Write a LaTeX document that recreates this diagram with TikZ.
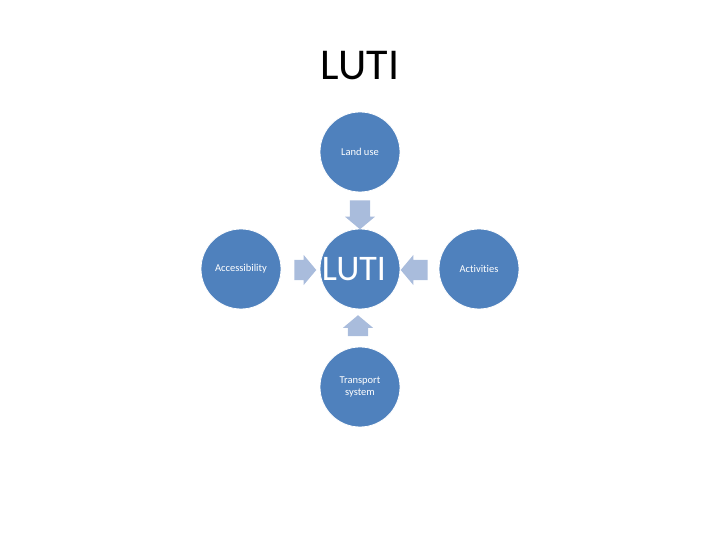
\documentclass[tikz,border=0pt]{standalone}
\usepackage{fontspec}
\setmainfont[Ligatures=NoCommon]{Carlito}
\usetikzlibrary{shapes.arrows, positioning}
\definecolor{circBlue}{HTML}{4F81BD}
\definecolor{arrBlue}{HTML}{A9BCDC}
\tikzset{
    bubble/.style={circle, draw=white, line width=0.8pt, fill=circBlue, text=white, minimum size=80pt, inner sep=0pt, align=center, font=\fontsize{10.5}{12}\selectfont},
    hub/.style={bubble, font=\fontsize{36}{40}\selectfont},
    blockArrow/.style={single arrow, draw=none, fill=arrBlue, inner xsep=0pt, inner ysep=10pt, single arrow head extend=5pt, single arrow tip angle=100, minimum width=30pt},
}
\begin{document}
\begin{tikzpicture}[x=1pt, y=1pt]
        \useasboundingbox (0,0) rectangle (720,540);
        
        \node[font=\fontsize{44}{48}\selectfont] (title) at (360,474) {LUTI};
        
        \node[hub] (luti) at (360,271) {LUTI\hspace*{12pt}};
        \node[bubble] (landuse) at (360,388) {Land use};
        \node[bubble] (transport) at (360,153) {Transport\\system};
        \node[bubble] (access) at (241,271) {Accessibility};
        \node[bubble] (activities) at (479,271) {Activities};
        
        \node[blockArrow, minimum height=29pt, rotate=-90] (arrTop) at (360,329.5) {};
        \node[blockArrow, minimum height=21pt, rotate=90] (arrBottom) at (358,210) {};
        \node[blockArrow, minimum height=22pt] (arrLeft) at (301,270) {};
        \node[blockArrow, minimum height=27pt, rotate=180] (arrRight) at (418.5,270) {};
        
    \end{tikzpicture}
\end{document}
